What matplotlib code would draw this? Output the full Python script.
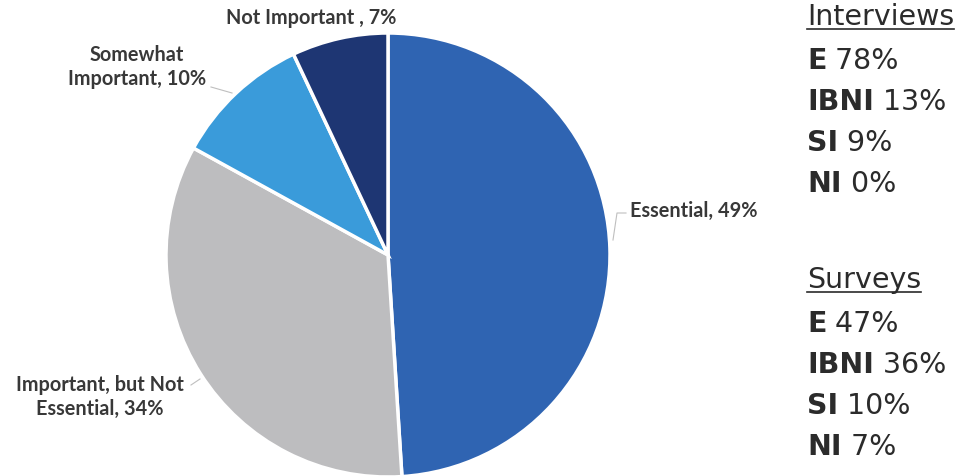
import numpy as np
import matplotlib
matplotlib.use("Agg")
import matplotlib.pyplot as plt

# pie data (surveys)
categories = ["Essential", "Important, but Not\nEssential", "Somewhat\nImportant", "Not Important "]
shares = [49, 34, 10, 7]
colors = ["#2F64B2", "#BDBDBF", "#3A9BDA", "#1E3673"]

# side panel
panel_groups = ["Interviews", "Surveys"]
panel_codes = ["E", "IBNI", "SI", "NI"]
interview_pct = [78, 13, 9, 0]
survey_pct = [47, 36, 10, 7]

W, H = 965, 476
fig = plt.figure(figsize=(W / 100, H / 100), dpi=100)
ax = fig.add_axes([0, 0, 1, 1])

cx, cy, r = 388, H - 255, 222
wedges, _ = ax.pie(shares, colors=colors, startangle=90, counterclock=False,
                   center=(cx, cy), radius=r, frame=True,
                   wedgeprops=dict(edgecolor="white", linewidth=2.5))
ax.set_xlim(0, W)
ax.set_ylim(0, H)
ax.set_aspect("equal")
ax.axis("off")

# label positions
label_pos = [(630, H - 211, "left"), (100, H - 397, "center"),
             (137, H - 67, "center"), (311, H - 18, "center")]
label_font = dict(family="Lato", weight="bold", size=14.3, color="#383838")
for cat, val, (tx, ty, ha) in zip(categories, shares, label_pos):
    ax.text(tx, ty, f"{cat}, {val}%", ha=ha, va="center", linespacing=1.25, **label_font)

# leader lines
leaders = [[(613, H - 240), (617, H - 213), (626, H - 213)],
           [(191, H - 385), (200, H - 379)],
           [(211, H - 87), (232, H - 93)]]
for pts in leaders:
    xs, ys = zip(*pts)
    ax.plot(xs, ys, color="#BFBFBF", lw=0.8)

# side panel text
panel_font = dict(family="DejaVu Sans", size=20.5, color="#2B2B2B")
fig.canvas.draw()
renderer = fig.canvas.get_renderer()
x_left = 807
for group, pcts, y_top in zip(panel_groups, [interview_pct, survey_pct], [17, 280]):
    y = H - y_top
    head = ax.text(x_left, y, group, ha="left", va="center", **panel_font)
    bb = head.get_window_extent(renderer)
    ax.plot([bb.x0, bb.x1], [bb.y0 + 2, bb.y0 + 2], color="#2B2B2B", lw=1.2)
    for i, (code, p) in enumerate(zip(panel_codes, pcts)):
        yy = y - 44 - 41 * i
        b = ax.text(x_left, yy, code, ha="left", va="center", weight="bold", **panel_font)
        ax.annotate(f" {p}%", xy=(1, 0.5), xycoords=b, ha="left", va="center", **panel_font)

fig.savefig("out.png", dpi=100)
